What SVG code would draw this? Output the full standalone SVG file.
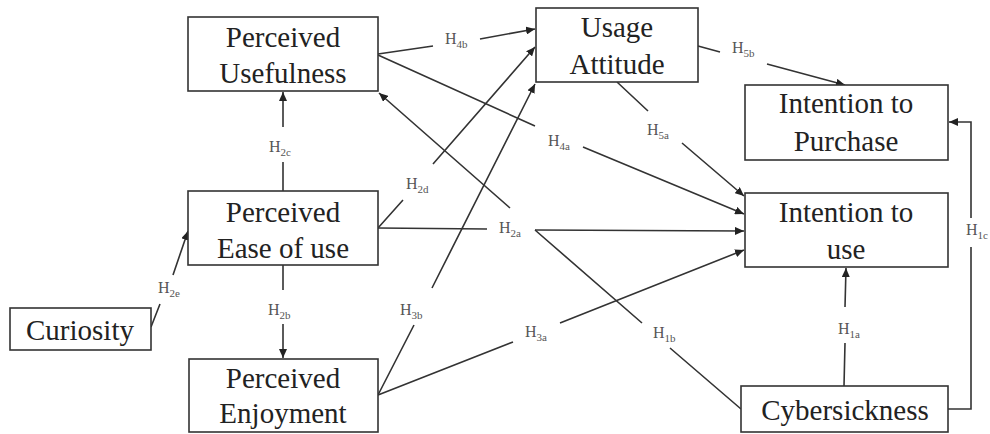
<svg xmlns="http://www.w3.org/2000/svg" width="990" height="434" viewBox="0 0 990 434">
<defs>
<marker id="arr" markerUnits="userSpaceOnUse" markerWidth="10" markerHeight="8" refX="9" refY="4" orient="auto">
<path d="M0,0 L9,4 L0,8 Z" fill="#222"/>
</marker>
<style>
.box{fill:#fff;stroke:#333;stroke-width:1.6}
.t{font-family:"Liberation Serif","DejaVu Serif",serif;font-size:29px;fill:#222;text-anchor:middle}
.c{fill:none;stroke:#333;stroke-width:1.6}
.a{marker-end:url(#arr)}
.l{font-family:"Liberation Serif","DejaVu Serif",serif;font-size:16px;fill:#555}
.s{font-size:11px}
</style>
</defs>
<rect width="990" height="434" fill="#fff"/>
<g id="connectors">
<path class="c a" d="M378,54 L433,46 M480,39 L535,29"/>
<path class="c a" d="M378,55 L535,126 M583,147 L744,214"/>
<path class="c a" d="M283,191 L283,162 M283,127 L283,92"/>
<path class="c a" d="M378,228 L403,200 M433,164 L535,47"/>
<path class="c a" d="M378,228 L487,229 M535,230 L744,231"/>
<path class="c a" d="M378,395 L414,325 M432,288 L535,84"/>
<path class="c a" d="M378,395 L513,342 M560,323 L744,250"/>
<path class="c a" d="M283,265 L283,290 M283,324 L283,358"/>
<path class="c a" d="M151,327 L160,304 M173,275 L188,231"/>
<path class="c a" d="M617,82 L648,111 M682,143 L744,196"/>
<path class="c a" d="M698,46 L720,52 M767,64 L845,85"/>
<path class="c a" d="M844,386 L845,343 M845,307 L846,268"/>
<path class="c a" d="M948,409 L971,409 L971,247 M971,218 L971,122 L949,122"/>
<path class="c a" d="M741,409 L670,348 M642,323 L535,230 M510,208 L379,93"/>
<text class="l" x="445" y="44">H<tspan class="s" dy="4">4b</tspan></text>
<text class="l" x="548" y="146">H<tspan class="s" dy="4">4a</tspan></text>
<text class="l" x="269" y="152">H<tspan class="s" dy="4">2c</tspan></text>
<text class="l" x="406" y="189">H<tspan class="s" dy="4">2d</tspan></text>
<text class="l" x="499" y="233">H<tspan class="s" dy="4">2a</tspan></text>
<text class="l" x="647" y="135">H<tspan class="s" dy="4">5a</tspan></text>
<text class="l" x="732" y="53">H<tspan class="s" dy="4">5b</tspan></text>
<text class="l" x="158" y="293">H<tspan class="s" dy="4">2e</tspan></text>
<text class="l" x="268" y="315">H<tspan class="s" dy="4">2b</tspan></text>
<text class="l" x="400" y="315">H<tspan class="s" dy="4">3b</tspan></text>
<text class="l" x="525" y="337">H<tspan class="s" dy="4">3a</tspan></text>
<text class="l" x="653" y="338">H<tspan class="s" dy="4">1b</tspan></text>
<text class="l" x="838" y="334">H<tspan class="s" dy="4">1a</tspan></text>
<text class="l" x="966" y="235">H<tspan class="s" dy="4">1c</tspan></text>
</g>
<g id="perceived-usefulness">
<rect class="box" x="188" y="17" width="190" height="74"/>
<text class="t" x="283" y="47">Perceived</text>
<text class="t" x="283" y="83">Usefulness</text>
</g>
<g id="perceived-ease-of-use">
<rect class="box" x="188" y="191" width="190" height="74"/>
<text class="t" x="283" y="222">Perceived</text>
<text class="t" x="283" y="258">Ease of use</text>
</g>
<g id="perceived-enjoyment">
<rect class="box" x="189" y="359" width="189" height="73"/>
<text class="t" x="283" y="388">Perceived</text>
<text class="t" x="283" y="423">Enjoyment</text>
</g>
<g id="curiosity">
<rect class="box" x="10" y="308" width="141" height="42"/>
<text class="t" x="80" y="340">Curiosity</text>
</g>
<g id="usage-attitude">
<rect class="box" x="536" y="8" width="162" height="74"/>
<text class="t" x="617" y="37">Usage</text>
<text class="t" x="617" y="74">Attitude</text>
</g>
<g id="intention-to-purchase">
<rect class="box" x="745" y="85" width="203" height="75"/>
<text class="t" x="846" y="113">Intention to</text>
<text class="t" x="846" y="151">Purchase</text>
</g>
<g id="intention-to-use">
<rect class="box" x="745" y="193" width="203" height="74"/>
<text class="t" x="846" y="222">Intention to</text>
<text class="t" x="846" y="259">use</text>
</g>
<g id="cybersickness">
<rect class="box" x="741" y="386" width="207" height="46"/>
<text class="t" x="845" y="420">Cybersickness</text>
</g>
</svg>
